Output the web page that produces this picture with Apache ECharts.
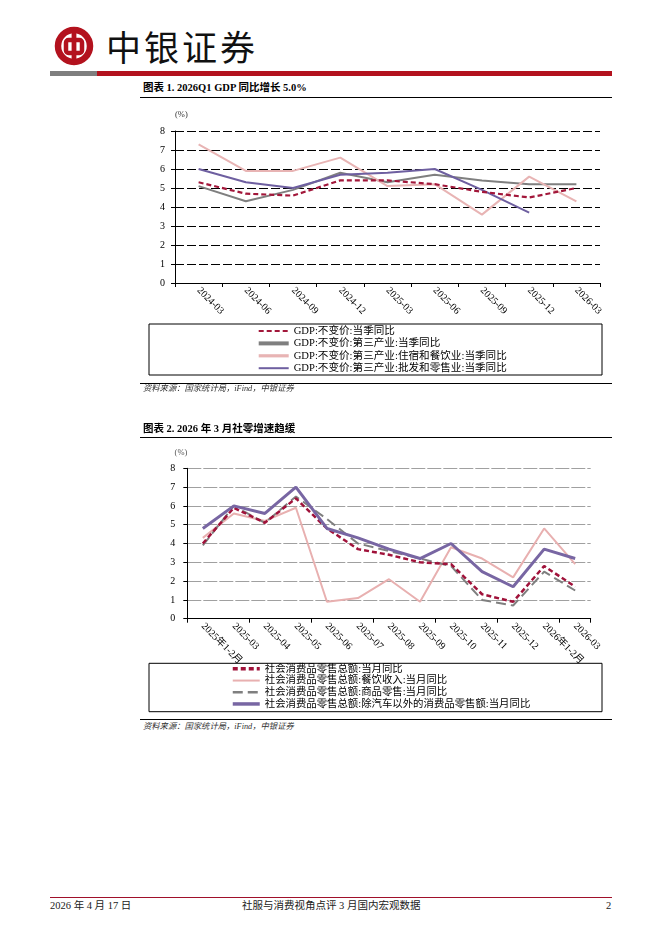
<!DOCTYPE html>
<html>
<head>
<meta charset="utf-8">
<script src="https://cdn.jsdelivr.net/npm/echarts/dist/echarts.min.js"></script>
<style>
  html,body{margin:0;padding:0;background:#fff;}
  body{width:662px;height:936px;position:relative;overflow:hidden;font-family:'Liberation Serif','Noto Sans CJK SC',serif;color:#000;}
  .abs{position:absolute;white-space:nowrap;}
  .title{font-size:10.5px;font-weight:bold;line-height:12px;}
  .src{font-size:8.3px;font-style:italic;color:#333;line-height:10px;}
  .foot{font-size:10.5px;line-height:12px;color:#222;}
</style>
</head>
<body>
<!-- header -->
<svg class="abs" style="left:50px;top:24px;" width="50" height="46" viewBox="50 24 50 46">
  <circle cx="74" cy="46" r="16" fill="none" stroke="#b3121e" stroke-width="6.5"/>
  <rect x="66" y="40" width="16" height="13" rx="2.5" fill="none" stroke="#b3121e" stroke-width="4.5"/>
  <rect x="71.6" y="27" width="4.8" height="38" fill="#b3121e"/>
</svg>
<div class="abs" style="left:106px;top:24px;font-size:35px;line-height:44px;letter-spacing:3px;font-family:'Noto Sans CJK SC';font-weight:400;color:#111;">中银证券</div>
<div class="abs" style="left:50px;top:71px;width:47px;height:5px;background:#7f7f7f;"></div>
<div class="abs" style="left:97px;top:71px;width:515px;height:5px;background:#b3121e;"></div>

<div class="abs title" style="left:143px;top:82px;">图表 1. 2026Q1 GDP 同比增长 5.0%</div>
<div class="abs" style="left:140px;top:97px;width:472px;height:1.2px;background:#000;"></div>

<div id="c1" class="abs" style="left:130px;top:100px;width:490px;height:285px;"></div>

<div class="abs" style="left:140px;top:383px;width:472px;height:1px;background:#000;"></div>
<div class="abs src" style="left:143px;top:383.5px;">资料来源：国家统计局，iFind，中银证券</div>

<div class="abs title" style="left:143px;top:423px;">图表 2. 2026 年 3 月社零增速趋缓</div>
<div class="abs" style="left:140px;top:436.5px;width:472px;height:1.2px;background:#000;"></div>

<div id="c2" class="abs" style="left:130px;top:440px;width:490px;height:278px;"></div>

<div class="abs" style="left:140px;top:719px;width:472px;height:1px;background:#000;"></div>
<div class="abs src" style="left:143px;top:722px;">资料来源：国家统计局，iFind，中银证券</div>

<!-- footer -->
<div class="abs" style="left:50px;top:896.5px;width:562px;height:1.5px;background:#a0102a;"></div>
<div class="abs foot" style="left:50px;top:900px;">2026 年 4 月 17 日</div>
<div class="abs foot" style="left:242px;top:900px;">社服与消费视角点评 3 月国内宏观数据</div>
<div class="abs foot" style="left:606px;top:900px;">2</div>

<script>
// ---------- Chart 1 data ----------
const gdpQuarters = ['2024-03','2024-06','2024-09','2024-12','2025-03','2025-06','2025-09','2025-12','2026-03'];
const gdpTotal = [5.3, 4.7, 4.6, 5.4, 5.4, 5.2, 4.8, 4.5, 5.0];
const gdpTertiary = [5.1, 4.3, 4.9, 5.8, 5.3, 5.7, 5.4, 5.2, 5.2];
const gdpHotelCatering = [7.3, 5.9, 5.9, 6.6, 5.1, 5.2, 3.6, 5.6, 4.3];
const gdpWholesaleRetail = [6.0, 5.3, 5.0, 5.7, 5.8, 6.0, 4.9, 3.7, null];
const gdpNames = ['GDP:不变价:当季同比','GDP:不变价:第三产业:当季同比','GDP:不变价:第三产业:住宿和餐饮业:当季同比','GDP:不变价:第三产业:批发和零售业:当季同比'];

// ---------- Chart 2 data ----------
const retailMonths = ['2025年1-2月','2025-03','2025-04','2025-05','2025-06','2025-07','2025-08','2025-09','2025-10','2025-11','2025-12','2026年1-2月','2026-03'];
const retailTotal = [4.0, 5.9, 5.1, 6.4, 4.8, 3.7, 3.4, 3.0, 2.9, 1.3, 0.9, 2.8, 1.7];
const retailCatering = [4.3, 5.6, 5.2, 5.9, 0.9, 1.1, 2.1, 0.9, 3.8, 3.2, 2.2, 4.8, 2.9];
const retailGoods = [3.9, 6.0, 5.1, 6.5, 5.3, 4.0, 3.6, 3.2, 2.8, 1.0, 0.7, 2.5, 1.5];
const retailExAuto = [4.8, 6.0, 5.6, 7.0, 4.8, 4.3, 3.7, 3.2, 4.0, 2.5, 1.7, 3.7, 3.2];
const retailNames = ['社会消费品零售总额:当月同比','社会消费品零售总额:餐饮收入:当月同比','社会消费品零售总额:商品零售:当月同比','社会消费品零售总额:除汽车以外的消费品零售额:当月同比'];

const FONT = "'Liberation Serif','Noto Sans CJK SC',serif";

function lineSeries(name, data, color, width, type, z) {
  return {
    name: name, type: 'line', data: data, symbol: 'none', z: z,
    connectNulls: false,
    lineStyle: {color: color, width: width, type: type},
    itemStyle: {color: color}
  };
}

// ---------- Chart 1 ----------
const c1 = echarts.init(document.getElementById('c1'), null, {renderer: 'canvas'});
c1.setOption({
  animation: false,
  textStyle: {fontFamily: FONT},
  grid: {left: 45, top: 31, width: 425, height: 152},
  xAxis: {
    type: 'category', data: gdpQuarters, boundaryGap: true,
    axisLine: {lineStyle: {color: '#000', width: 1}},
    axisTick: {show: true, length: 4, lineStyle: {color: '#000'}},
    axisLabel: {rotate: -45, interval: 0, fontSize: 10, color: '#000', fontFamily: FONT, margin: 6}
  },
  yAxis: {
    type: 'value', min: 0, max: 8, interval: 1,
    name: '(%)', nameGap: 16,
    nameTextStyle: {fontSize: 8.5, color: '#333', fontFamily: FONT, align: 'left', verticalAlign: 'middle'},
    axisLine: {show: true, lineStyle: {color: '#000', width: 1}},
    axisTick: {show: true, length: 4, lineStyle: {color: '#000'}},
    axisLabel: {fontSize: 10, color: '#000', fontFamily: FONT, margin: 10},
    splitLine: {show: true, lineStyle: {color: '#000', width: 1, type: [9, 3]}}
  },
  legend: {
    orient: 'vertical', left: 126.7, top: 225,
    itemWidth: 30, itemHeight: 12, itemGap: 0.4, itemTextGap: 2, padding: 0,
    itemStyle: {opacity: 0},
    textStyle: {fontSize: 10.6, color: '#000', fontFamily: FONT, lineHeight: 12},
    data: [
      {name: gdpNames[0], lineStyle: {width: 2.2}},
      {name: gdpNames[1], lineStyle: {width: 4}},
      {name: gdpNames[2], lineStyle: {width: 3.2}},
      {name: gdpNames[3], lineStyle: {width: 2}}
    ]
  },
  graphic: [{type: 'rect', shape: {x: 19, y: 224, width: 453, height: 51}, style: {fill: 'none', stroke: '#000', lineWidth: 1}, silent: true}],
  series: [
    lineSeries(gdpNames[0], gdpTotal, '#a2173a', 2.2, [5, 3], 5),
    lineSeries(gdpNames[1], gdpTertiary, '#7f7f7f', 2, 'solid', 2),
    lineSeries(gdpNames[2], gdpHotelCatering, '#e8b4b4', 2, 'solid', 3),
    lineSeries(gdpNames[3], gdpWholesaleRetail, '#6e5fa0', 2, 'solid', 4)
  ]
});

// ---------- Chart 2 ----------
const c2 = echarts.init(document.getElementById('c2'), null, {renderer: 'canvas'});
c2.setOption({
  animation: false,
  textStyle: {fontFamily: FONT},
  grid: {left: 57.3, top: 28.3, width: 403.4, height: 150.4},
  xAxis: {
    type: 'category', data: retailMonths, boundaryGap: true,
    axisLine: {lineStyle: {color: '#000', width: 1}},
    axisTick: {show: true, length: 4, interval: 1, lineStyle: {color: '#000'}},
    axisLabel: {rotate: -45, interval: 0, fontSize: 10, color: '#000', fontFamily: FONT, margin: 6}
  },
  yAxis: {
    type: 'value', min: 0, max: 8, interval: 1,
    name: '(%)', nameGap: 16,
    nameTextStyle: {fontSize: 8.5, color: '#555', fontFamily: FONT, align: 'right', verticalAlign: 'middle'},
    axisLine: {show: true, lineStyle: {color: '#000', width: 1}},
    axisTick: {show: true, length: 4, lineStyle: {color: '#000'}},
    axisLabel: {fontSize: 10, color: '#000', fontFamily: FONT, margin: 12},
    splitLine: {show: true, lineStyle: {color: '#a0a0a0', width: 1, type: [14, 2]}}
  },
  legend: {
    orient: 'vertical', left: 101, top: 223,
    itemWidth: 27, itemHeight: 11.7, itemGap: 0, itemTextGap: 3, padding: 0,
    itemStyle: {opacity: 0},
    textStyle: {fontSize: 10.4, color: '#000', fontFamily: FONT, lineHeight: 11.7},
    data: [
      {name: retailNames[0], lineStyle: {width: 3.5}},
      {name: retailNames[1], lineStyle: {width: 2}},
      {name: retailNames[2], lineStyle: {width: 2.5}},
      {name: retailNames[3], lineStyle: {width: 3.5}}
    ]
  },
  graphic: [{type: 'rect', shape: {x: 19, y: 223.3, width: 453, height: 48.4}, style: {fill: 'none', stroke: '#000', lineWidth: 1}, silent: true}],
  series: [
    lineSeries(retailNames[0], retailTotal, '#a0123a', 2.5, [5, 3], 4),
    lineSeries(retailNames[1], retailCatering, '#e8b0b0', 2, 'solid', 2),
    lineSeries(retailNames[2], retailGoods, '#7f7f7f', 2, [10, 5], 3),
    lineSeries(retailNames[3], retailExAuto, '#7866a3', 3, 'solid', 5)
  ]
});
</script>
</body>
</html>
